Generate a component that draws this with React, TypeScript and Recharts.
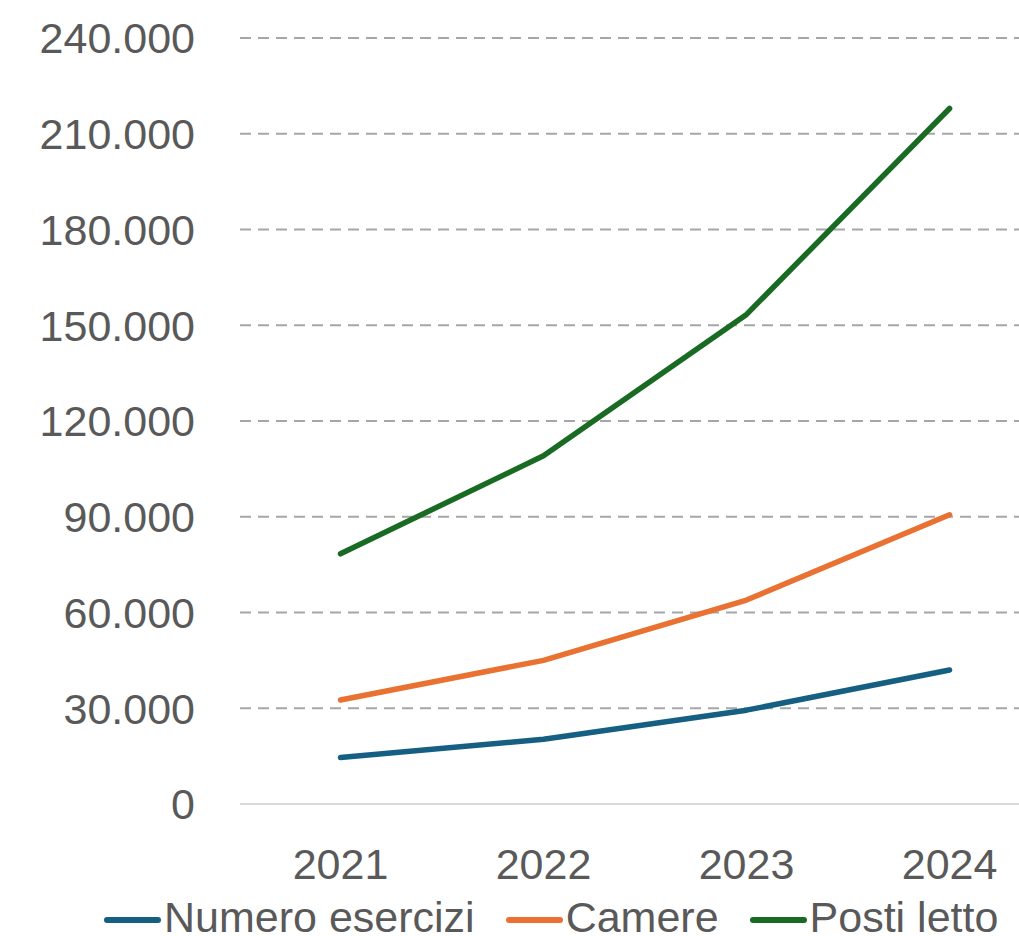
import React from "react";
import { LineChart, Line, XAxis, YAxis, ReferenceLine, Legend } from "recharts";

if (typeof document !== "undefined") {
  document.body.style.margin = "0";
  document.documentElement.style.overflow = "hidden";
}

const years = [2021, 2022, 2023, 2024];
const numeroEsercizi = [14600, 20300, 29400, 42000];
const camere = [32600, 45000, 63900, 90600];
const postiLetto = [78400, 109100, 153400, 217900];
const yTicks = [0, 30000, 60000, 90000, 120000, 150000, 180000, 210000, 240000];

const seriesDefs = [
  { key: "numero", name: "Numero esercizi", color: "#156082" },
  { key: "camere", name: "Camere", color: "#E97132" },
  { key: "posti", name: "Posti letto", color: "#196B24" },
];

const data = years.map((y, i) => ({
  year: y,
  numero: numeroEsercizi[i],
  camere: camere[i],
  posti: postiLetto[i],
}));

const FONT = "'Liberation Sans', Arial, sans-serif";
const TEXT = "#595959";

const fmt = (v: number) => String(v).replace(/\B(?=(\d{3})+(?!\d))/g, ".");

const LegendContent = () => (
  <div
    style={{
      display: "flex",
      alignItems: "flex-start",
      paddingLeft: 104,
      paddingTop: 15,
      height: 50,
      boxSizing: "border-box",
      fontFamily: FONT,
      fontSize: 43,
      color: TEXT,
      whiteSpace: "nowrap",
      overflow: "visible",
    }}
  >
    {seriesDefs.map((s) => (
      <div key={s.key} style={{ display: "flex", alignItems: "center", marginRight: 31 }}>
        <svg width={57} height={6} style={{ marginTop: 5, marginRight: 3, overflow: "visible" }}>
          <line x1={3} y1={3} x2={54} y2={3} stroke={s.color} strokeWidth={6} strokeLinecap="round" />
        </svg>
        <span style={{ lineHeight: "32px" }}>{s.name}</span>
      </div>
    ))}
  </div>
);

export default function App() {
  return (
    <div style={{ width: 1019, height: 936, background: "#fff" }}>
      <LineChart width={1019} height={936} data={data} margin={{ top: 38, right: 0, left: 0, bottom: 0 }}>
        {yTicks.slice(1).map((v) => (
          <ReferenceLine key={v} y={v} stroke="#a6a6a6" strokeWidth={2} strokeDasharray="11 7" ifOverflow="extendDomain" />
        ))}
        <XAxis
          dataKey="year"
          type="number"
          domain={[2020.505, 2024.342]}
          allowDataOverflow
          ticks={years}
          interval={0}
          height={82}
          tickLine={false}
          tickMargin={38}
          axisLine={{ stroke: "#d9d9d9", strokeWidth: 2 }}
          tick={{ fill: TEXT, fontSize: 43, fontFamily: FONT }}
        />
        <YAxis
          domain={[0, 240000]}
          ticks={yTicks}
          interval={0}
          width={240}
          axisLine={false}
          tickLine={false}
          tickMargin={39}
          tickFormatter={fmt}
          tick={{ fill: TEXT, fontSize: 43, fontFamily: FONT }}
        />
        {seriesDefs.map((s) => (
          <Line
            key={s.key}
            dataKey={s.key}
            name={s.name}
            type="linear"
            stroke={s.color}
            strokeWidth={5.5}
            strokeLinecap="round"
            strokeLinejoin="round"
            dot={false}
            activeDot={false}
            isAnimationActive={false}
          />
        ))}
        <Legend
          verticalAlign="bottom"
          align="left"
          height={50}
          content={<LegendContent />}
          wrapperStyle={{ left: 0, bottom: 0, width: 1019, height: 50 }}
        />
      </LineChart>
    </div>
  );
}
